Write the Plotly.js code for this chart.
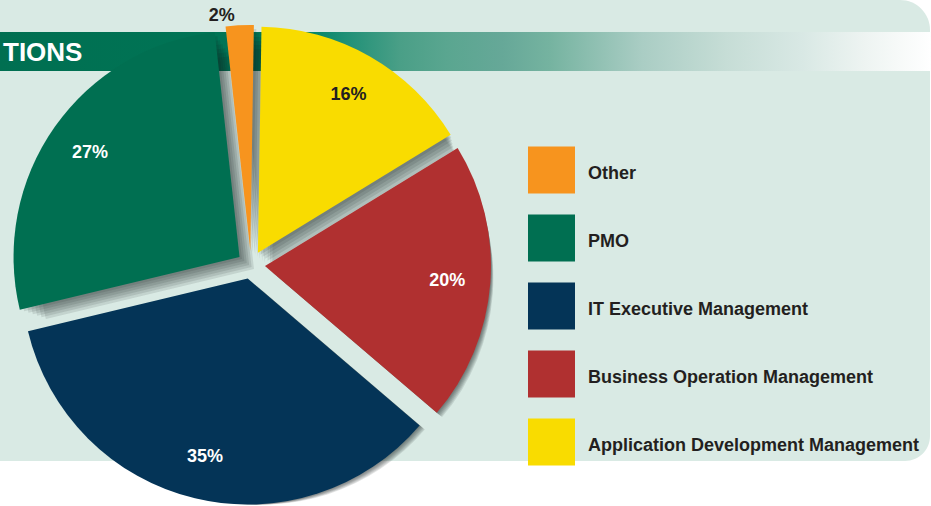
<!DOCTYPE html>
<html>
<head>
<meta charset="utf-8">
<script src="https://cdn.plot.ly/plotly-3.0.1.min.js"></script>
<style>
  html, body { margin: 0; padding: 0; background: #ffffff; overflow: hidden; }
  #chart { width: 931px; height: 506px; }
</style>
</head>
<body>
<div id="chart"></div>
<script>
// ---- data (legend order, top to bottom) ----
const categories = ['Other', 'PMO', 'IT Executive Management', 'Business Operation Management', 'Application Development Management'];
const shares = [2, 27, 35, 20, 16];
const sliceColors = ['#F7941E', '#006F51', '#043457', '#B03030', '#F9DC00'];
const labelPlacement = ['outside', 'inside', 'inside', 'inside', 'inside'];
const labelColors = ['#231F20', '#FFFFFF', '#FFFFFF', '#FFFFFF', '#231F20'];
const headerText = 'TIONS';

// ---- layout constants (pixels) ----
const W = 931, H = 506;
const CX = 251, CY = 265;      // pie centre
const HALF = 240;              // half size of the pie box
const PULL_PX = 14;            // explode distance
const ROT = -6.3;              // pie rotation
const textFont = 'Liberation Sans, Arial, sans-serif';

function pieDomain(cx, cy, half) {
  return { x: [(cx - half) / W, (cx + half) / W], y: [(H - cy - half) / H, (H - cy + half) / H] };
}

const traces = [];

// header gradient band
traces.push({
  type: 'scatter', mode: 'lines',
  x: [0, W, W, 0, 0], y: [32, 32, 71, 71, 32],
  fill: 'toself',
  fillgradient: {
    type: 'horizontal', start: 0, stop: W,
    colorscale: [
      [0, '#006F51'], [0.28, '#007556'], [0.33, '#008466'], [0.37, '#1E9076'],
      [0.43, '#4A9F87'], [0.48, '#5AA690'], [0.54, '#66A898'], [0.59, '#75B3A0'],
      [0.69, '#AACDC4'], [0.78, '#C6DDD6'], [0.86, '#D8E8E4'], [0.93, '#EEF4F2'], [1, '#FFFFFF']
    ]
  },
  line: { width: 0 }, hoverinfo: 'skip', showlegend: false
});

// legend squares
const legendY = categories.map((_, i) => 170 + 68 * i);
traces.push({
  type: 'scatter', mode: 'markers',
  x: categories.map(() => 551.5), y: legendY,
  marker: { symbol: 'square', size: 47, color: sliceColors, line: { width: 0 } },
  hoverinfo: 'skip', showlegend: false, cliponaxis: false
});
traces.push({
  type: 'scatter', mode: 'text',
  x: categories.map(() => 588), y: legendY.map(v => v + 4),
  text: categories, textposition: 'middle right',
  textfont: { family: textFont, size: 18, color: '#231F20', weight: 'bold' },
  hoverinfo: 'skip', showlegend: false, cliponaxis: false
});

// soft shadow layers under the pie
[2, 4, 6, 8, 10, 12].forEach(d => {
  const half = HALF - d;
  const r = half - PULL_PX;
  traces.push({
    type: 'pie', values: shares, labels: categories, sort: false,
    direction: 'counterclockwise', rotation: ROT,
    pull: PULL_PX / r,
    domain: pieDomain(CX + d * 1.2, CY + d, half),
    marker: { colors: categories.map(() => 'rgba(20,30,28,0.11)'), line: { width: 0 } },
    textinfo: 'none', hoverinfo: 'skip', showlegend: false
  });
});

// main pie
traces.push({
  type: 'pie', values: shares, labels: categories, sort: false,
  direction: 'counterclockwise', rotation: ROT,
  pull: PULL_PX / (HALF - PULL_PX),
  domain: pieDomain(CX, CY, HALF),
  marker: { colors: sliceColors, line: { width: 0 } },
  textinfo: 'none', hoverinfo: 'label+percent', showlegend: false
});

// label ring (transparent) that carries the percentage labels
traces.push({
  type: 'pie', values: shares, labels: categories, sort: false,
  direction: 'counterclockwise', rotation: ROT, hole: 0.64,
  domain: pieDomain(CX, CY, HALF),
  marker: { colors: categories.map(() => 'rgba(0,0,0,0)'), line: { width: 0 } },
  textinfo: 'percent', textposition: labelPlacement,
  insidetextorientation: 'horizontal',
  insidetextfont: { family: textFont, size: 18, color: labelColors, weight: 'bold' },
  outsidetextfont: { family: textFont, size: 18, color: '#231F20', weight: 'bold' },
  hoverinfo: 'skip', showlegend: false
});

const layout = {
  width: W, height: H,
  margin: { l: 0, r: 0, t: 0, b: 0 },
  paper_bgcolor: '#FFFFFF', plot_bgcolor: 'rgba(0,0,0,0)',
  showlegend: false,
  xaxis: { range: [0, W], visible: false, fixedrange: true },
  yaxis: { range: [H, 0], visible: false, fixedrange: true },
  shapes: [{
    type: 'path', xref: 'x', yref: 'y', layer: 'below',
    path: 'M -10 0 L 900 0 C 916.6 0 930 13.4 930 30 L 930 436 C 930 449.8 918.8 461 905 461 L -10 461 Z',
    fillcolor: '#D9EAE4', line: { width: 0 }
  }],
  annotations: [{
    text: headerText, xref: 'x', yref: 'y', x: 1, y: 52,
    xanchor: 'left', yanchor: 'middle', showarrow: false,
    font: { family: 'Liberation Sans, Arial, sans-serif', size: 26, color: '#FFFFFF', weight: 'bold' }
  }]
};

Plotly.newPlot('chart', traces, layout, { displayModeBar: false, staticPlot: true });
</script>
</body>
</html>
